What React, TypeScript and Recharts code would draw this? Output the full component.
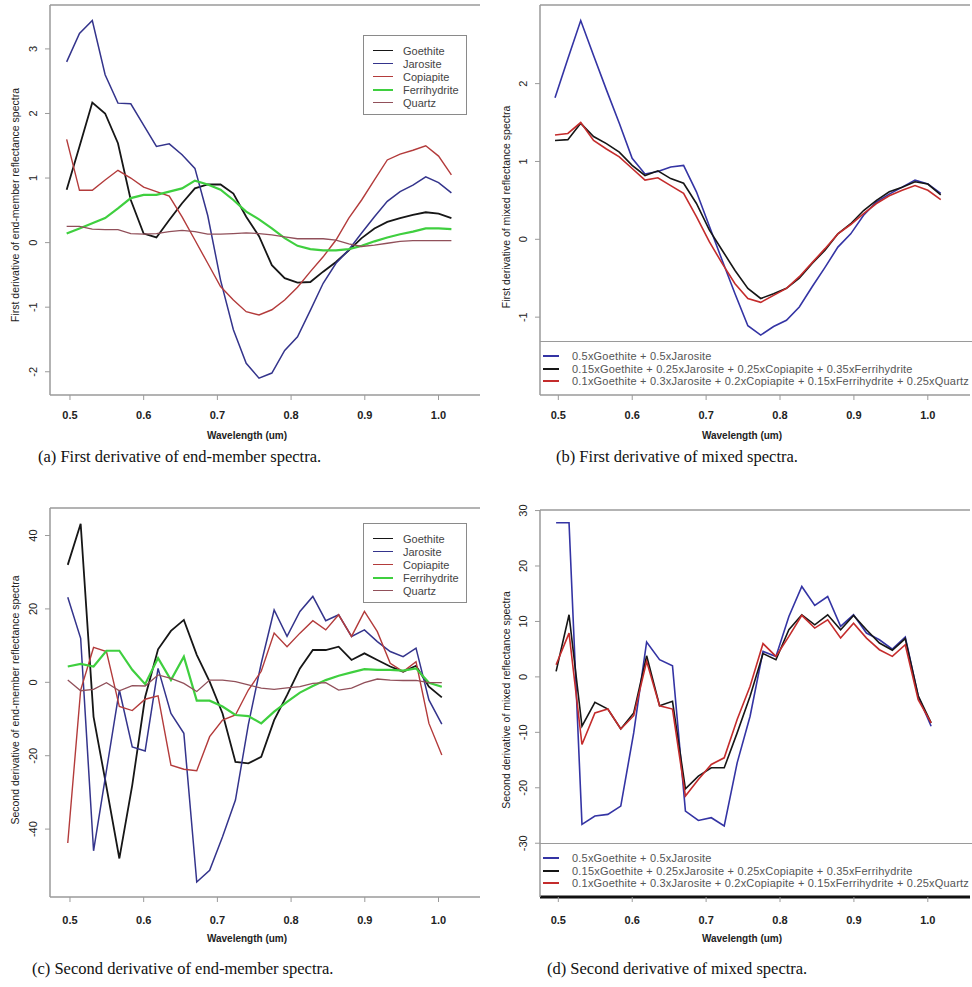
import React from "react";
import { LineChart, Line, XAxis, YAxis, ReferenceLine, Legend } from "recharts";

// wavelength grid (um) of the first derivative, and of the second derivative
const wavelength1 = [
  0.4955, 0.5129, 0.5303, 0.5477, 0.5651, 0.5825, 0.5999, 0.6173, 0.6347, 0.6521, 0.6695,
  0.6869, 0.7043, 0.7217, 0.7391, 0.7565, 0.7739, 0.7913, 0.8087, 0.8261, 0.8435, 0.8609,
  0.8783, 0.8957, 0.9131, 0.9305, 0.9479, 0.9653, 0.9827, 1.0001, 1.0175,
];
const wavelength2 = [
  0.497, 0.5145, 0.532, 0.5495, 0.567, 0.5845, 0.602, 0.6195, 0.637, 0.6545, 0.672, 0.6895,
  0.707, 0.7245, 0.742, 0.7595, 0.777, 0.7945, 0.812, 0.8295, 0.847, 0.8645, 0.882, 0.8995,
  0.917, 0.9345, 0.952, 0.9695, 0.987, 1.0045,
];
const xTicks = [0.5, 0.6, 0.7, 0.8, 0.9, 1.0];

// (a) first derivative, end-members
const goethiteD1 = [0.82, 1.49, 2.17, 2.0, 1.54, 0.66, 0.14, 0.08, 0.35, 0.61, 0.84, 0.9, 0.9, 0.76, 0.4, 0.1, -0.35, -0.55, -0.62, -0.61, -0.45, -0.3, -0.12, 0.07, 0.22, 0.32, 0.38, 0.43, 0.47, 0.45, 0.38];
const jarositeD1 = [2.8, 3.24, 3.44, 2.6, 2.16, 2.15, 1.82, 1.49, 1.53, 1.36, 1.15, 0.42, -0.58, -1.35, -1.87, -2.1, -2.02, -1.67, -1.46, -1.05, -0.63, -0.32, -0.11, 0.15, 0.4, 0.64, 0.79, 0.89, 1.02, 0.93, 0.77];
const copiapiteD1 = [1.6, 0.81, 0.81, 0.97, 1.12, 1.0, 0.86, 0.79, 0.72, 0.4, 0.04, -0.32, -0.68, -0.89, -1.07, -1.12, -1.04, -0.89, -0.69, -0.45, -0.22, 0.04, 0.38, 0.66, 0.97, 1.28, 1.37, 1.43, 1.5, 1.34, 1.05];
const ferrihydriteD1 = [0.14, 0.22, 0.3, 0.38, 0.53, 0.69, 0.74, 0.74, 0.79, 0.84, 0.96, 0.9, 0.82, 0.66, 0.48, 0.36, 0.22, 0.07, -0.05, -0.1, -0.12, -0.12, -0.1, -0.05, 0.02, 0.08, 0.13, 0.17, 0.22, 0.22, 0.21];
const quartzD1 = [0.25, 0.25, 0.21, 0.2, 0.2, 0.14, 0.13, 0.14, 0.17, 0.19, 0.17, 0.13, 0.13, 0.14, 0.15, 0.14, 0.12, 0.09, 0.06, 0.06, 0.06, 0.04, -0.02, -0.06, -0.04, -0.01, 0.02, 0.03, 0.03, 0.03, 0.03];

// (b) first derivative, mixtures
const mixAD1 = [1.82, 2.32, 2.81, 2.36, 1.92, 1.49, 1.04, 0.84, 0.87, 0.93, 0.95, 0.61, 0.17, -0.27, -0.7, -1.11, -1.23, -1.12, -1.04, -0.87, -0.61, -0.36, -0.1, 0.07, 0.31, 0.48, 0.58, 0.67, 0.76, 0.71, 0.59];
const mixBD1 = [1.27, 1.28, 1.49, 1.32, 1.23, 1.12, 0.95, 0.82, 0.88, 0.78, 0.72, 0.46, 0.12, -0.14, -0.4, -0.63, -0.76, -0.7, -0.63, -0.5, -0.31, -0.14, 0.07, 0.2, 0.37, 0.5, 0.61, 0.67, 0.74, 0.71, 0.57];
const mixCD1 = [1.34, 1.36, 1.5, 1.27, 1.16, 1.06, 0.91, 0.76, 0.79, 0.69, 0.59, 0.29, -0.03, -0.31, -0.57, -0.76, -0.81, -0.72, -0.63, -0.48, -0.3, -0.12, 0.07, 0.19, 0.33, 0.46, 0.56, 0.63, 0.69, 0.63, 0.51];

// (c) second derivative, end-members
const goethiteD2 = [32.0, 43.2, -9.4, -28.5, -48.0, -28.0, -4.0, 9.0, 14.0, 17.0, 7.5, 0.2, -8.5, -21.7, -22.1, -20.3, -10.3, -3.5, 3.8, 8.8, 8.8, 9.7, 6.1, 7.9, 6.1, 4.3, 2.9, 4.5, -1.2, -4.1];
const jarositeD2 = [23.2, 12.0, -45.9, -24.0, -2.1, -17.6, -18.7, 3.8, -8.5, -13.9, -54.4, -51.2, -42.1, -32.1, -11.5, 5.2, 19.7, 12.5, 19.3, 23.4, 16.8, 18.4, 12.5, 14.3, 11.1, 8.4, 7.0, 9.3, -4.8, -11.4];
const copiapiteD2 = [-43.8, -2.1, 9.5, 8.4, -6.6, -7.7, -4.6, -3.7, -22.6, -23.7, -24.1, -14.8, -10.3, -8.9, -2.1, 3.0, 13.4, 9.7, 13.4, 16.8, 14.3, 18.4, 12.5, 19.3, 13.8, 5.2, 2.9, 5.6, -11.2, -19.8];
const ferrihydriteD2 = [4.3, 5.0, 4.3, 8.6, 8.6, 3.4, -0.5, 6.6, 0.6, 7.0, -5.0, -5.0, -6.6, -8.9, -9.2, -11.2, -8.0, -5.3, -2.8, -1.0, 0.6, 1.8, 2.7, 3.6, 3.4, 3.4, 3.2, 3.8, -0.1, -1.2];
const quartzD2 = [0.6, -2.3, -1.9, -0.1, -2.3, -0.9, -1.0, 2.0, 1.1, -0.3, -2.5, 0.6, 0.6, 0.2, -0.7, -1.6, -1.9, -1.5, -1.2, -0.3, -0.1, -2.1, -1.6, -0.1, 0.9, 0.6, 0.5, 0.5, -0.1, -0.1];

// (d) second derivative, mixtures
const mixAD2 = [27.8, 27.8, -26.6, -25.1, -24.8, -23.3, -10.1, 6.3, 3.1, 2.0, -24.2, -25.9, -25.4, -26.9, -15.5, -7.1, 4.6, 3.7, 10.9, 16.3, 12.9, 14.5, 9.1, 11.2, 7.9, 6.7, 5.0, 7.2, -3.5, -8.9];
const mixBD2 = [1.0, 11.2, -8.9, -4.6, -5.8, -9.4, -6.5, 3.8, -5.2, -4.4, -20.2, -17.9, -16.4, -16.4, -10.1, -3.5, 4.2, 3.1, 8.5, 11.2, 9.4, 11.2, 8.5, 11.1, 8.5, 6.1, 4.8, 6.9, -3.4, -8.3];
const mixCD2 = [2.2, 7.9, -12.2, -6.5, -5.8, -9.4, -7.0, 2.8, -5.2, -5.8, -21.5, -18.5, -15.8, -14.6, -7.7, -1.7, 6.0, 3.7, 7.3, 11.1, 8.8, 10.3, 7.0, 9.7, 7.0, 4.9, 3.7, 5.8, -4.1, -8.3];

const FONT = "'Liberation Sans', Arial, Helvetica, sans-serif";
const AXIS = "#9a9a9a";

type Series = { key: string; name: string; color: string; width: number };

const endMembers: Series[] = [
  { key: "goethite", name: "Goethite", color: "#161616", width: 1.8 },
  { key: "jarosite", name: "Jarosite", color: "#34348c", width: 1.5 },
  { key: "copiapite", name: "Copiapite", color: "#b33b3b", width: 1.4 },
  { key: "ferrihydrite", name: "Ferrihydrite", color: "#3fcf3f", width: 2.2 },
  { key: "quartz", name: "Quartz", color: "#91505a", width: 1.3 },
];

const mixtures: Series[] = [
  { key: "mixA", name: "0.5xGoethite + 0.5xJarosite", color: "#3434a4", width: 1.6 },
  { key: "mixB", name: "0.15xGoethite + 0.25xJarosite + 0.25xCopiapite + 0.35xFerrihydrite", color: "#161616", width: 1.6 },
  { key: "mixC", name: "0.1xGoethite + 0.3xJarosite + 0.2xCopiapite + 0.15xFerrihydrite + 0.25xQuartz", color: "#c42c2c", width: 1.6 },
];

const toRows = (w: number[], cols: Record<string, number[]>) =>
  w.map((x, i) => {
    const row: Record<string, number> = { w: x };
    Object.keys(cols).forEach((k) => (row[k] = cols[k][i]));
    return row;
  });

const dataA = toRows(wavelength1, { goethite: goethiteD1, jarosite: jarositeD1, copiapite: copiapiteD1, ferrihydrite: ferrihydriteD1, quartz: quartzD1 });
const dataB = toRows(wavelength1, { mixA: mixAD1, mixB: mixBD1, mixC: mixCD1 });
const dataC = toRows(wavelength2, { goethite: goethiteD2, jarosite: jarositeD2, copiapite: copiapiteD2, ferrihydrite: ferrihydriteD2, quartz: quartzD2 });
const dataD = toRows(wavelength2, { mixA: mixAD2, mixB: mixBD2, mixC: mixCD2 });

// y tick labels sit parallel to the axis, like base R graphics
const RotatedTick = (props: any) => {
  const { x, y, payload } = props;
  return (
    <text x={x} y={y} transform={`rotate(-90 ${x} ${y})`} textAnchor="middle" fontSize={11} fontFamily={FONT} fill="#222">
      {payload.value}
    </text>
  );
};

const boxLegend = (series: Series[]) => (
  <div style={{ width: 104, boxSizing: "border-box", border: "1.5px solid #8a8a8a", background: "#fff", padding: "8px 0 5px 0", fontFamily: FONT, fontSize: 11, color: "#444", whiteSpace: "nowrap" }}>
    {series.map((s) => (
      <div key={s.key} style={{ display: "flex", alignItems: "center", height: 13 }}>
        <span style={{ display: "inline-block", width: 20, marginLeft: 9, marginRight: 10, borderTop: `${s.width}px solid ${s.color}` }} />
        <span>{s.name}</span>
      </div>
    ))}
  </div>
);

const stripLegend = (series: Series[], height: number) => (
  <div style={{ width: 432, height, boxSizing: "border-box", borderTop: "1.5px solid #9a9a9a", padding: "8px 0 0 0", fontFamily: FONT, fontSize: 11, letterSpacing: 0.2, color: "#555", whiteSpace: "nowrap" }}>
    {series.map((s) => (
      <div key={s.key} style={{ display: "flex", alignItems: "center", height: 12.5 }}>
        <span style={{ display: "inline-block", width: 16, marginLeft: 3, marginRight: 13, borderTop: `${s.width + 0.4}px solid ${s.color}` }} />
        <span>{s.name}</span>
      </div>
    ))}
  </div>
);

type PanelProps = {
  left: number;
  top: number;
  width: number;
  height: number;
  plotTop: number;
  plotBottom: number;
  data: Record<string, number>[];
  series: Series[];
  xDomain: [number, number];
  yDomain: [number, number];
  yTicks: number[];
  yTitle: string;
  yTitleY: number;
  yTitleX: number;
  xTitleX: number;
  xTitleY: number;
  tickGap: number;
  legend: "box" | "strip";
  legendLeft: number;
  legendTop: number;
  bottomStroke?: string;
  bottomWidth?: number;
};

function Panel(p: PanelProps) {
  return (
    <div style={{ position: "absolute", left: p.left, top: p.top }}>
      <LineChart width={p.width} height={p.height} data={p.data} margin={{ top: p.plotTop, right: p.width - 480, bottom: 0, left: 0 }}>
        <XAxis
          dataKey="w"
          type="number"
          domain={p.xDomain}
          allowDataOverflow
          ticks={xTicks}
          interval={0}
          height={p.height - p.plotBottom}
          tickSize={5}
          tickMargin={p.tickGap}
          tickFormatter={(v: number) => v.toFixed(1)}
          tick={{ fontSize: 11, fontWeight: 700, fill: "#222", fontFamily: FONT }}
          axisLine={{ stroke: p.bottomStroke ?? AXIS, strokeWidth: p.bottomWidth ?? 1.5 }}
          tickLine={{ stroke: AXIS }}
          label={{
            content: () => (
              <text x={p.xTitleX} y={p.xTitleY} textAnchor="middle" fontSize={10} fontWeight={700} fontFamily={FONT} fill="#222">
                Wavelength (um)
              </text>
            ),
          }}
        />
        <YAxis
          type="number"
          domain={p.yDomain}
          allowDataOverflow
          ticks={p.yTicks}
          interval={0}
          width={50}
          tickSize={5}
          tickMargin={8}
          tick={(props: any) => <RotatedTick {...props} />}
          axisLine={{ stroke: AXIS, strokeWidth: 1.5 }}
          tickLine={{ stroke: AXIS }}
          label={{
            content: () => (
              <text
                x={p.yTitleX}
                y={p.yTitleY}
                transform={`rotate(-90 ${p.yTitleX} ${p.yTitleY})`}
                textAnchor="middle"
                fontSize={10.5}
                fontFamily={FONT}
                fill="#222"
              >
                {p.yTitle}
              </text>
            ),
          }}
        />
        <ReferenceLine y={p.yDomain[1]} stroke={AXIS} strokeWidth={1.5} ifOverflow="visible" />
        {p.series.map((s) => (
          <Line
            key={s.key}
            type="linear"
            dataKey={s.key}
            name={s.name}
            stroke={s.color}
            strokeWidth={s.width}
            dot={false}
            activeDot={false}
            isAnimationActive={false}
          />
        ))}
        <Legend
          layout="vertical"
          align="center"
          verticalAlign="middle"
          wrapperStyle={{ left: p.legendLeft, top: p.legendTop }}
          content={() => (p.legend === "box" ? boxLegend(p.series) : stripLegend(p.series, p.plotBottom - p.legendTop))}
        />
      </LineChart>
    </div>
  );
}

const captionStyle: React.CSSProperties = {
  position: "absolute",
  fontFamily: "'Liberation Serif', 'DejaVu Serif', serif",
  fontSize: 16.5,
  lineHeight: "18px",
  color: "#111",
  whiteSpace: "nowrap",
};

export default function App() {
  return (
    <div style={{ position: "absolute", left: 0, top: 0, width: 972, height: 987, background: "#fff", overflow: "hidden" }}>
      <Panel
        left={0}
        top={0}
        width={484}
        height={445}
        plotTop={5}
        plotBottom={395}
        data={dataA}
        series={endMembers}
        xDomain={[0.4729, 1.0563]}
        yDomain={[-2.36, 3.68]}
        yTicks={[-2, -1, 0, 1, 2, 3]}
        yTitle="First derivative of end-member reflectance spectra"
        yTitleX={18.5}
        yTitleY={205}
        xTitleX={247}
        xTitleY={438.5}
        tickGap={11}
        legend="box"
        legendLeft={363}
        legendTop={35}
      />
      <Panel
        left={490}
        top={0}
        width={482}
        height={445}
        plotTop={5}
        plotBottom={395}
        data={dataB}
        series={mixtures}
        xDomain={[0.4752, 1.0571]}
        yDomain={[-2.0, 3.01]}
        yTicks={[-1, 0, 1, 2]}
        yTitle="First derivative of mixed reflectance spectra"
        yTitleX={19.5}
        yTitleY={207}
        xTitleX={252}
        xTitleY={438.5}
        tickGap={11}
        legend="strip"
        legendLeft={50}
        legendTop={341}
      />
      <Panel
        left={0}
        top={500}
        width={484}
        height={450}
        plotTop={8}
        plotBottom={397}
        data={dataC}
        series={endMembers}
        xDomain={[0.4729, 1.0563]}
        yDomain={[-58.5, 47.5]}
        yTicks={[-40, -20, 0, 20, 40]}
        yTitle="Second derivative of end-member reflectance spectra"
        yTitleX={18.5}
        yTitleY={200}
        xTitleX={247}
        xTitleY={441.5}
        tickGap={14}
        legend="box"
        legendLeft={363}
        legendTop={23}
      />
      <Panel
        left={490}
        top={500}
        width={482}
        height={450}
        plotTop={10}
        plotBottom={397}
        data={dataD}
        series={mixtures}
        xDomain={[0.4752, 1.0571]}
        yDomain={[-39.7, 30.1]}
        yTicks={[-30, -20, -10, 0, 10, 20, 30]}
        yTitle="Second derivative of mixed reflectance spectra"
        yTitleX={19.5}
        yTitleY={200}
        xTitleX={252}
        xTitleY={441.5}
        tickGap={14}
        legend="strip"
        legendLeft={50}
        legendTop={343}
        bottomStroke="#111"
        bottomWidth={3}
      />
      <div style={{ ...captionStyle, left: 38, top: 448 }}>(a) First derivative of end-member spectra.</div>
      <div style={{ ...captionStyle, left: 556, top: 448 }}>(b) First derivative of mixed spectra.</div>
      <div style={{ ...captionStyle, left: 32, top: 960 }}>(c) Second derivative of end-member spectra.</div>
      <div style={{ ...captionStyle, left: 547, top: 960 }}>(d) Second derivative of mixed spectra.</div>
    </div>
  );
}
